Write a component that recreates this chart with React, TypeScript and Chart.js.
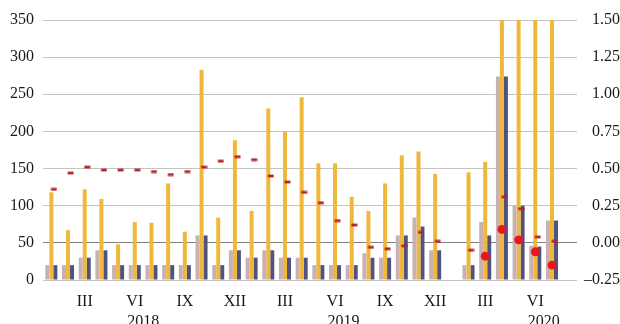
import React, { useEffect, useRef } from 'react';
import { Chart, registerables } from 'chart.js';

Chart.register(...registerables);

const categories = [
  '2018-01', '2018-02', '2018-03', '2018-04', '2018-05', '2018-06', '2018-07', '2018-08', '2018-09', '2018-10', '2018-11', '2018-12',
  '2019-01', '2019-02', '2019-03', '2019-04', '2019-05', '2019-06', '2019-07', '2019-08', '2019-09', '2019-10', '2019-11', '2019-12',
  '2020-01', '2020-02', '2020-03', '2020-04', '2020-05', '2020-06', '2020-07', '2020-08',
];

const monthTickLabels = [
  '', '', 'III', '', '', 'VI', '', '', 'IX', '', '', 'XII',
  '', '', 'III', '', '', 'VI', '', '', 'IX', '', '', 'XII',
  '', '', 'III', '', '', 'VI', '', '',
];

const yearLabels = ['2018', '2019', '2020'];

const seriesPink = [
  20, 20, 30, 40, 20, 20, 20, 20, 20, 60, 20, 40,
  30, 40, 30, 30, 20, 20, 20, 36, 30, 60, 84, 40,
  null, 20, 78, 274, 100, 46, 80, null,
];

const seriesYellow = [
  118, 67, 122, 109, 48, 78, 77, 130, 65, 283, 84, 188,
  93, 231, 200, 246, 157, 157, 112, 93, 130, 168, 173, 143,
  null, 145, 159, 500, 500, 500, 500, null,
];

const seriesDark = [
  20, 20, 30, 40, 20, 20, 20, 20, 20, 60, 20, 40,
  30, 40, 30, 30, 20, 20, 20, 30, 30, 60, 72, 40,
  null, 20, 60, 274, 100, 45, 80, null,
];

const rateDash = [
  0.36, 0.47, 0.51, 0.49, 0.49, 0.49, 0.48, 0.46, 0.48, 0.51, 0.55, 0.58,
  0.56, 0.45, 0.41, 0.34, 0.27, 0.15, 0.12, -0.03, -0.04, -0.02, 0.07, 0.01,
  null, -0.05, null, 0.31, 0.23, 0.04, 0.01, null,
];

const rateDot = [
  null, null, null, null, null, null, null, null, null, null, null, null,
  null, null, null, null, null, null, null, null, null, null, null, null,
  null, null, -0.09, 0.09, 0.02, -0.06, -0.15, null,
];

const FONT = "'Liberation Serif', 'Times New Roman', serif";

export default function App() {
  const ref = useRef<HTMLCanvasElement | null>(null);

  useEffect(() => {
    if (!ref.current) return;

    const dash = document.createElement('canvas');
    dash.width = 12;
    dash.height = 4;
    const dctx = dash.getContext('2d');
    if (dctx) {
      dctx.fillStyle = '#b6232a';
      dctx.fillRect(5.6, 0.6, 5.9, 2.8);
    }

    const monthTicks = monthTickLabels
      .map((lbl, i) => ({ value: i, label: lbl as string | string[] }))
      .filter((t) => t.label !== '');
    const yearTicks = yearLabels.map((yr) => ({
      value: categories.findIndex((c) => c.startsWith(yr)) + 5.5,
      label: ['', yr] as string | string[],
    }));
    const axisTicks = [...monthTicks, ...yearTicks].sort((a, b) => a.value - b.value);

    const chart = new Chart(ref.current, {
      type: 'bar',
      data: {
        labels: categories,
        datasets: [
          {
            type: 'line',
            label: 'dot',
            data: rateDot,
            xAxisID: 'x',
            yAxisID: 'y1',
            showLine: false,
            pointStyle: 'circle',
            pointRadius: 4.4,
            pointBackgroundColor: '#e8161f',
            pointBorderWidth: 0,
            borderColor: '#e8161f',
            order: 0,
          } as any,
          {
            type: 'line',
            label: 'dash',
            data: rateDash,
            xAxisID: 'x',
            yAxisID: 'y1',
            showLine: false,
            pointStyle: dash,
            pointRadius: 4,
            borderColor: '#b6232a',
            order: 1,
          } as any,
          {
            label: 'pink',
            data: seriesPink,
            xAxisID: 'x',
            yAxisID: 'y',
            backgroundColor: '#c9b1b1',
            categoryPercentage: 0.72,
            barPercentage: 1,
            order: 2,
          },
          {
            label: 'yellow',
            data: seriesYellow,
            xAxisID: 'x',
            yAxisID: 'y',
            backgroundColor: '#f0b83a',
            categoryPercentage: 0.72,
            barPercentage: 1,
            order: 2,
          },
          {
            label: 'dark',
            data: seriesDark,
            xAxisID: 'x',
            yAxisID: 'y',
            backgroundColor: '#4f537e',
            categoryPercentage: 0.72,
            barPercentage: 1,
            order: 2,
          },
        ],
      },
      options: {
        animation: false,
        responsive: false,
        devicePixelRatio: 1,
        layout: { padding: { top: 20, left: 0, right: 0, bottom: 0 } },
        plugins: {
          legend: { display: false },
          tooltip: { enabled: false },
        },
        scales: {
          x: {
            type: 'category',
            axis: 'x',
            display: false,
            offset: true,
            grid: { display: false },
          },
          x2: {
            type: 'linear',
            axis: 'x',
            position: 'bottom',
            offset: false,
            min: -0.5,
            max: categories.length - 0.5,
            grid: { display: false, drawTicks: false },
            border: { display: false },
            afterBuildTicks: (s: any) => {
              s.ticks = axisTicks.map((t) => ({ value: t.value }));
            },
            ticks: {
              autoSkip: false,
              maxRotation: 0,
              minRotation: 0,
              padding: 12,
              color: '#1a1a1a',
              font: { family: FONT, size: 16, lineHeight: 1.25 },
              callback: (_v: any, i: number) => axisTicks[i].label,
            },
            afterFit: (s: any) => {
              s.height = 44;
            },
          },
          y: {
            type: 'linear',
            position: 'left',
            min: 0,
            max: 350,
            stacked: false,
            border: { display: false },
            grid: {
              drawTicks: false,
              color: (c: any) => (c.tick && c.tick.value === 50 ? '#808080' : '#c4c4c4'),
              lineWidth: 1,
            },
            ticks: {
              stepSize: 50,
              padding: 9,
              color: '#1a1a1a',
              font: { family: FONT, size: 16 },
            },
            afterFit: (s: any) => {
              s.width = 43;
            },
          },
          y1: {
            type: 'linear',
            position: 'right',
            min: -0.25,
            max: 1.5,
            border: { display: false },
            grid: { display: false, drawTicks: false },
            ticks: {
              stepSize: 0.25,
              crossAlign: 'far',
              color: '#1a1a1a',
              font: { family: FONT, size: 16 },
              callback: (v: any) => {
                const n = Number(v);
                const s = Math.abs(n).toFixed(2);
                return n < -1e-9 ? '\u2013' + s : s;
              },
            },
            afterFit: (s: any) => {
              s.width = 43;
            },
          },
        },
      } as any,
    });

    return () => {
      chart.destroy();
    };
  }, []);

  return (
    <div
      style={{
        position: 'absolute',
        left: 0,
        top: 0,
        width: 620,
        height: 324,
        overflow: 'hidden',
        background: '#ffffff',
      }}
    >
      <canvas ref={ref} width={620} height={324} style={{ display: 'block' }} />
    </div>
  );
}
